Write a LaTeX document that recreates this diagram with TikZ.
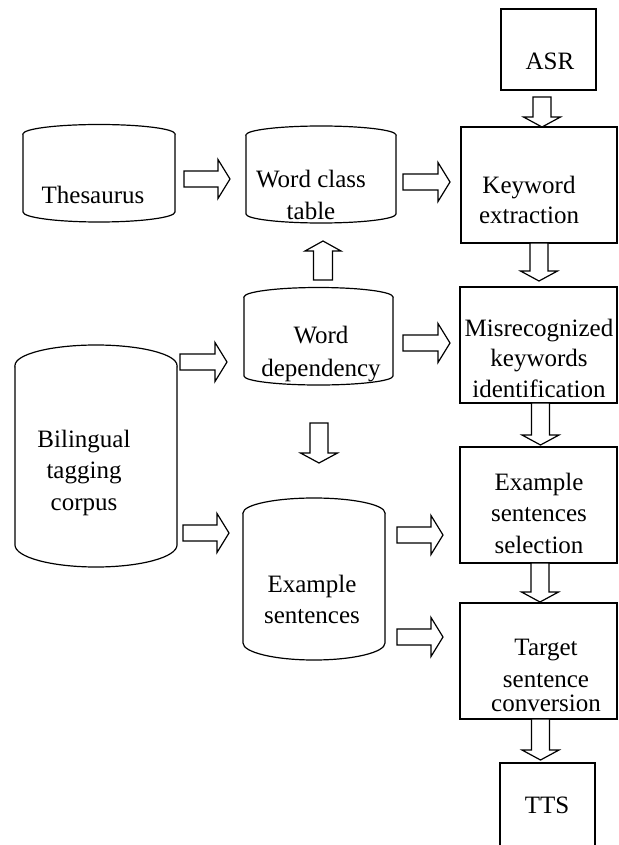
\documentclass[tikz,border=0pt]{standalone}
\usepackage{fontspec}
\setmainfont{Liberation Serif}
\usetikzlibrary{calc}
% cylinder: name, L, R, ytop (ellipse centre), ybot (side end), ry, rb  (pixel units, y downwards)
\newcommand\mycyl[7]{%
  \node[cylspace, minimum width={#3-#2}, minimum height={#5+#7-#4+#6}] (#1) at ({(#2+#3)/2},{-(#4-#6+#5+#7)/2}) {};
  \draw[outline] ({(#2+#3)/2},-#4) ellipse [x radius={(#3-#2)/2}, y radius=#6];
  \draw[outline] (#2,-#4) -- (#2,-#5) arc[start angle=180, end angle=360, x radius={(#3-#2)/2}, y radius=#7] -- (#3,-#4);}
% horizontal block arrow: from node, to node, y, gap after from.east, gap before to.west
\newcommand\harr[5]{%
  \draw[outline] let \p1=(#1.east), \p2=(#2.west), \n1={\x1+#4}, \n2={\x2-#5}, \n3={-#3} in
    (\n1,\n3+8) -- (\n2-12,\n3+8) -- (\n2-12,\n3+19.5) -- (\n2,\n3) -- (\n2-12,\n3-19.5) -- (\n2-12,\n3-8) -- (\n1,\n3-8) -- cycle;}
% downward block arrow: from node, to node, x, gap below from.south, gap above to.north
\newcommand\darr[5]{%
  \draw[outline] let \p1=(#1.south), \p2=(#2.north), \n1={\y1-#4}, \n2={\y2+#5} in
    (#3-9,\n1) -- (#3+9,\n1) -- (#3+9,\n2+10) -- (#3+18.5,\n2+10) -- (#3,\n2) -- (#3-18.5,\n2+10) -- (#3-9,\n2+10) -- cycle;}
% upward block arrow: from node (below), to node (above), x, gap above from.north, gap below to.south
\newcommand\uarr[5]{%
  \draw[outline] let \p1=(#1.north), \p2=(#2.south), \n1={\y1+#4}, \n2={\y2-#5} in
    (#3-9.5,\n1) -- (#3+9.5,\n1) -- (#3+9.5,\n2-10) -- (#3+18,\n2-10) -- (#3,\n2) -- (#3-18,\n2-10) -- (#3-9.5,\n2-10) -- cycle;}
\begin{document}
\begin{tikzpicture}[x=1pt,y=1pt,
  outline/.style={draw=black, line width=1.2pt, fill=white, line join=miter},
  cylspace/.style={draw=none, inner sep=0pt, outer sep=0pt},
  procbox/.style={draw=black, line width=1.2pt, inner sep=0pt, outer sep=0pt},
  txt/.style={font=\fontsize{25}{31}\selectfont, align=center, inner sep=0pt, anchor=base}]
\useasboundingbox (0,0) rectangle (618,-845);

% data stores
\mycyl{thes}{23}{175}{134}{212}{9.5}{10}
\mycyl{wct}{246}{396}{135}{214}{9}{9}
\mycyl{wdep}{244}{393}{297}{376}{9.5}{9}
\mycyl{corp}{15}{177}{365.5}{545}{20.5}{22}
\mycyl{exs}{243}{385}{513}{643}{15}{17}

% process boxes
\node[procbox, minimum width=95, minimum height=81] (asr) at (548.5,-49.5) {};
\node[procbox, minimum width=156, minimum height=116] (kw) at (539,-185) {};
\node[procbox, minimum width=157, minimum height=116] (mis) at (538.5,-345) {};
\node[procbox, minimum width=157, minimum height=116] (sel) at (538.5,-505) {};
\node[procbox, minimum width=157, minimum height=116] (tgt) at (538.5,-661) {};
\node[procbox, minimum width=95, minimum height=110] (tts) at (547.5,-818) {};

% texts (anchor=base is the baseline of the last line)
\node[txt] (thest) at (93,-203) {Thesaurus};
\node[txt, font=\fontsize{25}{32}\selectfont] (wctt) at (311,-219) {Word class\\table};
\node[txt, font=\fontsize{25}{33}\selectfont] (wdept) at (321,-376) {Word\\dependency};
\node[txt, font=\fontsize{25}{31.5}\selectfont] (corpt) at (84,-510) {Bilingual\\tagging\\corpus};
\node[txt] (exst) at (312,-623) {Example\\sentences};
\node[txt] (asrt) at (550,-70) {ASR};
\node[txt, font=\fontsize{25}{30}\selectfont] (kwt) at (529,-223) {Keyword\\extraction};
\node[txt, font=\fontsize{25}{30.5}\selectfont] (mist) at (539,-397) {Misrecognized\\keywords\\identification};
\node[txt, font=\fontsize{25}{31.5}\selectfont] (selt) at (539,-553) {Example\\sentences\\selection};
\node[txt, font=\fontsize{25}{32}\selectfont] (tgtt) at (546,-711) {Target\\sentence\\[-8pt]conversion};
\node[txt] (ttst) at (547,-813) {TTS};

% block arrows
\harr{thes}{wct}{179}{9}{16}
\harr{wct}{kw}{182}{7}{11}
\harr{corp}{wdep}{362}{3}{17}
\harr{wdep}{mis}{343}{10}{10}
\harr{corp}{exs}{533}{6}{14}
\harr{exs}{sel}{535}{12}{17}
\harr{exs}{tgt}{637}{12}{17}
\darr{asr}{kw}{542}{7}{0}
\darr{kw}{mis}{539}{0}{6}
\darr{mis}{sel}{540.5}{0}{2}
\darr{sel}{tgt}{540}{0}{1}
\darr{tgt}{tts}{540.5}{0}{3}
\darr{wdep}{exs}{319}{38}{35}
\uarr{wdep}{wct}{323}{7.5}{18}
\end{tikzpicture}
\end{document}
